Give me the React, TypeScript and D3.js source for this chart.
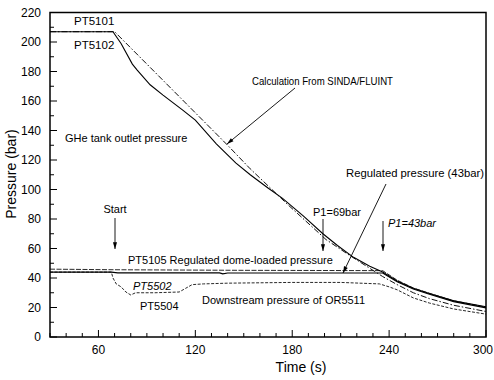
import * as d3 from 'd3';

const W = 494;
const H = 380;
const M = { left: 50, right: 8, top: 12.5, bottom: 43 };

// GHe tank outlet pressure (PT5101 / PT5102), measured
const tankTime = [30, 69, 74, 81, 84, 92, 100, 112, 120, 133, 145, 154, 165, 174, 187, 199, 208, 218, 228, 236, 245, 255, 265, 280, 300];
const tankP = [207, 207, 199, 185, 181, 171, 164, 154, 147, 131, 118, 110, 101, 94, 82, 70, 62, 54, 48, 44, 38, 33, 29.5, 24.5, 20.5];

// Calculation from SINDA/FLUINT
const calcTime = [30, 70, 140, 154, 178, 201, 216, 226, 236, 245, 255, 265, 280, 300];
const calcP = [207, 207, 130, 114, 89, 66, 55, 48, 41, 35.5, 30, 26, 21.5, 17.3];

// Regulated pressure (43 bar)
const regTime = [30, 68, 72, 135, 137, 140, 200, 236, 245, 255, 265, 280, 300];
const regP = [44, 44, 43.5, 43.5, 42.8, 43.4, 43.4, 43.4, 37.5, 32.5, 29, 24, 19.8];

// PT5105 regulated dome-loaded pressure
const domeTime = [30, 70, 150, 236, 245, 255, 265, 280, 300];
const domeP = [46, 45.6, 45.2, 45, 38.5, 33.2, 29.6, 24.6, 20.2];

// Downstream pressure of OR5511 (PT5502 / PT5504)
const downTime = [30, 68, 69, 71, 74, 77, 80, 83, 95, 110, 114, 118, 125, 140, 180, 210, 234, 240, 245, 255, 265, 280, 300];
const downP = [44, 44, 40, 36, 34, 30.5, 28.5, 30, 30, 30.5, 33, 35.5, 36, 36.5, 37, 37, 36, 34, 32, 26.5, 23, 19, 15.5];

const xTicks = [60, 120, 180, 240, 300];
const yTicks = [0, 20, 40, 60, 80, 100, 120, 140, 160, 180, 200, 220];

const FONT = '"Liberation Sans", Arial, sans-serif';

const x = d3.scaleLinear().domain([30, 300]).range([M.left, W - M.right]);
const y = d3.scaleLinear().domain([0, 220]).range([H - M.bottom, M.top]);

const mk = (ts: number[], ps: number[], curve: d3.CurveFactory = d3.curveLinear) =>
  d3
    .line<number>()
    .x((_d, i) => x(ts[i]))
    .y((d) => y(d))
    .curve(curve)(ps) as string;

const Arrow = ({ x1, y1, x2, y2, dash }: { x1: number; y1: number; x2: number; y2: number; dash?: string }) => {
  const a = Math.atan2(y2 - y1, x2 - x1);
  const L = 7;
  const s = 0.3;
  const p1 = [x2 - L * Math.cos(a - s), y2 - L * Math.sin(a - s)];
  const p2 = [x2 - L * Math.cos(a + s), y2 - L * Math.sin(a + s)];
  return (
    <g>
      <line x1={x1} y1={y1} x2={x2} y2={y2} stroke="#000" strokeWidth={0.9} strokeDasharray={dash} />
      <path d={`M${x2},${y2}L${p1[0]},${p1[1]}L${p2[0]},${p2[1]}Z`} fill="#000" />
    </g>
  );
};

export default function App() {
  const x0 = M.left;
  const x1 = W - M.right;
  const y0 = H - M.bottom;
  const y1 = M.top;
  const minorX = d3.range(30, 301, 10);
  const minorY = d3.range(0, 221, 10);

  return (
    <svg width={W} height={H} style={{ position: 'absolute', left: 0, top: 0, background: '#fff' }} fontFamily={FONT}>
      <rect x={0} y={0} width={W} height={H} fill="#fff" />

      {/* data lines */}
      <path d={mk(downTime, downP)} fill="none" stroke="#111" strokeWidth={0.9} strokeDasharray="3,1.5" />
      <path d={mk(domeTime, domeP)} fill="none" stroke="#111" strokeWidth={0.9} strokeDasharray="5,1.5" />
      <path d={mk(regTime, regP)} fill="none" stroke="#000" strokeWidth={1.2} />
      <path d={mk(calcTime, calcP)} fill="none" stroke="#111" strokeWidth={1} strokeDasharray="6,2,1.5,2" />
      <path d={mk(tankTime, tankP)} fill="none" stroke="#000" strokeWidth={1.1} />

      {/* frame */}
      <rect x={x0} y={y1} width={x1 - x0} height={y0 - y1} fill="none" stroke="#000" strokeWidth={1.5} />

      {/* x ticks */}
      {minorX.map((t) => {
        const major = xTicks.includes(t);
        return <line key={'xt' + t} x1={x(t)} x2={x(t)} y1={y0} y2={y0 - (major ? 7 : 4)} stroke="#000" strokeWidth={1} />;
      })}
      {xTicks.map((t) => {
        const last = t === xTicks[xTicks.length - 1];
        return (
          <text key={'xl' + t} x={last ? W - 1 : x(t)} y={y0 + 17} fontSize={12} textAnchor={last ? 'end' : 'middle'}>
            {t}
          </text>
        );
      })}

      {/* y ticks */}
      {minorY.map((v) => {
        const major = v % 20 === 0;
        return <line key={'yt' + v} x1={x0} x2={x0 + (major ? 7 : 4)} y1={y(v)} y2={y(v)} stroke="#000" strokeWidth={1} />;
      })}
      {yTicks.map((v) => (
        <text key={'yl' + v} x={x0 - 9} y={y(v) + 4} fontSize={12} textAnchor="end">
          {v}
        </text>
      ))}

      {/* axis titles */}
      <text x={301} y={372} fontSize={14} textAnchor="middle">
        Time (s)
      </text>
      <text transform="translate(16,174) rotate(-90)" fontSize={14} textAnchor="middle">
        Pressure (bar)
      </text>

      {/* annotations */}
      <text x={74} y={25} fontSize={11.5}>PT5101</text>
      <text x={74} y={49} fontSize={11.5}>PT5102</text>
      <text x={252} y={85} fontSize={11} textLength={141} lengthAdjust="spacingAndGlyphs">Calculation From SINDA/FLUINT</text>
      <Arrow x1={295} y1={88} x2={227} y2={144} />
      <text x={65} y={142} fontSize={11}>GHe tank outlet pressure</text>
      <text x={346} y={177} fontSize={11} textLength={138} lengthAdjust="spacingAndGlyphs">Regulated pressure (43bar)</text>
      <Arrow x1={386} y1={184} x2={343} y2={273} />
      <text x={115} y={213} fontSize={11} textAnchor="middle">Start</text>
      <Arrow x1={115} y1={218} x2={115} y2={249} />
      <text x={313} y={216} fontSize={11}>P1=69bar</text>
      <Arrow x1={323} y1={219} x2={323} y2={251} />
      <text x={388} y={227} fontSize={11} fontStyle="italic">P1=43bar</text>
      <Arrow x1={383} y1={221} x2={383} y2={251} />
      <text x={128} y={264} fontSize={11}>PT5105  Regulated dome-loaded pressure</text>
      <text x={133} y={290} fontSize={11} fontStyle="italic">PT5502</text>
      <text x={140} y={310} fontSize={11}>PT5504</text>
      <text x={202} y={304} fontSize={11}>Downstream pressure of OR5511</text>
    </svg>
  );
}
